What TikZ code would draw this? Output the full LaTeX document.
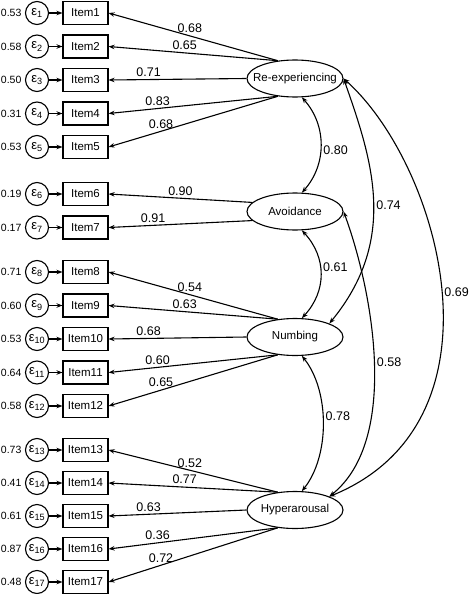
\documentclass[tikz,border=0pt]{standalone}
\usepackage{fontspec}
\setmainfont{Liberation Sans}
\usepackage{tikz}
\usetikzlibrary{shapes, arrows.meta}
\tikzset{
	item/.style={draw, rectangle, minimum width=45pt, minimum height=23pt, inner sep=0pt, font=\fontsize{11.5}{13}\selectfont},
	err/.style={draw, circle, minimum size=23pt, inner sep=0pt, font=\fontsize{13}{14}\selectfont},
	factor/.style={draw, ellipse, minimum width=96pt, minimum height=37pt, inner sep=0pt, font=\fontsize{11.5}{13}\selectfont},
	load/.style={-{Stealth[length=6pt,width=4.5pt]}},
	cov/.style={{Stealth[length=6pt,width=4.5pt]}-{Stealth[length=6pt,width=4.5pt]}},
	coef/.style={font=\fontsize{12.5}{14}\selectfont, inner sep=2.5pt},
	var/.style={font=\fontsize{10.5}{12}\selectfont, inner sep=3pt},
}

\begin{document}
\begin{tikzpicture}[x=1pt, y=1pt, line width=1.1pt]
		\fill[white] (0,0) rectangle (473,-594);
		\useasboundingbox (0,0) rectangle (473,-594);

		% observed items with their errors
		\foreach \i/\y/\v in {1/13/0.53, 2/46.5/0.58, 3/80/0.50, 4/113.5/0.31, 5/147/0.53, 6/194/0.19, 7/227.5/0.17, 8/272/0.71, 9/305.5/0.60, 10/339/0.53, 11/372.5/0.64, 12/406/0.58, 13/450/0.73, 14/483/0.41, 15/516/0.61, 16/549/0.87, 17/582/0.48}
		{
			\node[item] (x\i) at (85.5,-\y) {Item\i};
			\node[err] (e\i) at (37,-\y) {ε\textsubscript{\i}};
			\node[var, left] (v\i) at (e\i.west) {\v};
			\draw[load] (e\i) -- (x\i);
		}

		% latent factors
		\node[factor] (re) at (295,-78.5) {\makebox[0pt]{Re-experiencing}};
		\node[factor] (av) at (295,-211.5) {\makebox[0pt]{Avoidance}};
		\node[factor] (nu) at (295,-337) {\makebox[0pt]{Numbing}};
		\node[factor] (hy) at (295,-510) {\makebox[0pt]{Hyperarousal}};

		% loadings
		\foreach \f/\i/\a/\p/\c in {re/1/134/0.52/0.68, re/2/134/0.55/0.65, re/3/180/0.71/0.71, re/4/226/0.71/0.83, re/5/226/0.69/0.68,
			av/6/168/0.50/0.90, av/7/192/0.69/0.91,
			nu/8/134/0.52/0.54, nu/9/134/0.55/0.63, nu/10/180/0.71/0.68, nu/11/226/0.71/0.60, nu/12/226/0.69/0.65,
			hy/13/134/0.52/0.52, hy/14/134/0.55/0.77, hy/15/180/0.71/0.63, hy/16/226/0.71/0.36, hy/17/226/0.69/0.72}
			\draw[load] (\f.\a) -- (x\i.east) node[coef, pos=\p, above] {\c};

		% covariances
		\draw[cov] (re.-70) .. controls +(25,-28) and +(25,28) .. (av.70) node[coef, pos=0.55, right] {0.80};
		\draw[cov] (av.-70) .. controls +(25,-27) and +(25,27) .. (nu.70) node[coef, pos=0.42, right] {0.61};
		\draw[cov] (nu.-70) .. controls +(28,-35) and +(28,35) .. (hy.70) node[coef, pos=0.45, right] {0.78};
		\draw[cov] (re.east) .. controls +(29,-82) and +(69,84) .. (nu.north east) node[coef, pos=0.52, right] {0.74};
		\draw[cov] (av.east) .. controls +(29,-78.5) and +(71,57) .. (hy.north east) node[coef, pos=0.5, right] {0.58};
		\draw[cov] (re.east) .. controls +(97,-87) and +(183,75) .. (hy.north east) node[coef, pos=0.5, right] {0.69};
	\end{tikzpicture}
\end{document}
